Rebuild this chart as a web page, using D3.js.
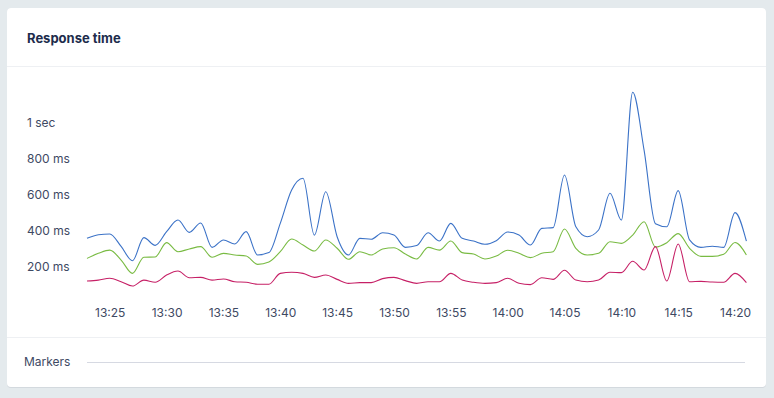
<!DOCTYPE html>
<html>
<head>
<meta charset="utf-8">
<script src="https://cdn.jsdelivr.net/npm/d3@7"></script>
<style>
  html, body { margin: 0; padding: 0; background: #e4eaed; }
  svg { display: block; font-family: Inter, "Noto Sans", sans-serif; }
</style>
</head>
<body>
<svg id="chart" width="774" height="398"></svg>
<script>
// one point per minute, 13:23 -> 14:21
const startTime = new Date(2020, 0, 1, 13, 23);
const endTime = new Date(2020, 0, 1, 14, 22);
const times = d3.timeMinute.range(startTime, endTime);

// response time in ms
const blueValues = [360, 380, 384, 315, 236, 364, 321, 397, 461, 393,
  445, 310, 351, 329, 397, 268, 281, 443, 627, 692,
  378, 618, 369, 268, 360, 355, 391, 378, 310, 320,
  391, 345, 443, 360, 345, 327, 347, 395, 378, 323,
  415, 419, 710, 424, 369, 406, 609, 461, 1168, 848,
  441, 424, 624, 351, 310, 316, 310, 502, 344];
const greenValues = [249, 277, 295, 240, 166, 255, 257, 336, 286, 301,
  314, 255, 277, 268, 262, 216, 229, 286, 356, 323,
  290, 351, 305, 244, 286, 268, 301, 308, 273, 246,
  310, 295, 345, 281, 273, 246, 262, 294, 277, 253,
  277, 286, 412, 305, 268, 277, 341, 332, 378, 452,
  312, 336, 386, 305, 260, 260, 272, 337, 268];
const redValues = [124, 129, 139, 120, 96, 129, 117, 157, 179, 142,
  144, 129, 135, 120, 117, 106, 106, 166, 172, 166,
  144, 157, 133, 111, 115, 115, 137, 144, 126, 111,
  120, 120, 166, 129, 117, 111, 115, 139, 111, 104,
  142, 133, 183, 129, 120, 129, 172, 170, 233, 185,
  314, 124, 329, 120, 122, 118, 117, 166, 115];

const yTicks = [200, 400, 600, 800, 1000];
const seriesColors = ["#3b72c7", "#79bb43", "#c62066"];

const svg = d3.select("#chart");

// card
svg.append("rect").attr("x", 7).attr("y", 8).attr("width", 759).attr("height", 380)
  .attr("rx", 4).attr("fill", "#d3d9de");
svg.append("rect").attr("x", 7).attr("y", 8).attr("width", 759).attr("height", 379)
  .attr("rx", 4).attr("fill", "#fff");

svg.append("text").attr("x", 27).attr("y", 42.5)
  .attr("font-size", 13).attr("font-weight", 700).attr("fill", "#1d2c4c")
  .text("Response time");

svg.append("line").attr("x1", 7).attr("x2", 766).attr("y1", 66.5).attr("y2", 66.5)
  .attr("stroke", "#eef0f3");
svg.append("line").attr("x1", 7).attr("x2", 766).attr("y1", 337.5).attr("y2", 337.5)
  .attr("stroke", "#eef0f3");

const x = d3.scaleTime().domain([startTime, times[times.length - 1]]).range([87, 746.4]);
const y = d3.scaleLinear().domain([0, 1200]).range([303.4, 86.5]);

// y labels
svg.append("g").selectAll("text").data(yTicks).join("text")
  .attr("x", 27).attr("y", d => y(d)).attr("dy", "0.35em")
  .attr("font-size", 12).attr("fill", "#3e4963")
  .text(d => d >= 1000 ? (d / 1000) + " sec" : d + " ms");

// x axis labels
const xAxis = svg.append("g").attr("transform", "translate(0,305)")
  .call(d3.axisBottom(x).ticks(d3.timeMinute.every(5)).tickFormat(d3.timeFormat("%H:%M")).tickSize(0));
xAxis.select(".domain").remove();
xAxis.selectAll("text").attr("font-size", 12).attr("fill", "#3e4963")
  .attr("font-family", "Inter, 'Noto Sans', sans-serif").attr("dy", "0.71em");

const line = d3.line().x((d, i) => x(times[i])).y(d => y(d)).curve(d3.curveMonotoneX);

[blueValues, greenValues, redValues].forEach((vals, k) => {
  svg.append("path").datum(vals).attr("d", line)
    .attr("fill", "none").attr("stroke", seriesColors[k]).attr("stroke-width", 1.1);
});

// markers row
svg.append("text").attr("x", 24).attr("y", 362).attr("dy", "0.35em")
  .attr("font-size", 12).attr("fill", "#3e4963").text("Markers");
svg.append("line").attr("x1", x.range()[0]).attr("x2", 745).attr("y1", 362.5).attr("y2", 362.5)
  .attr("stroke", "#d6d9e2");
</script>
</body>
</html>
